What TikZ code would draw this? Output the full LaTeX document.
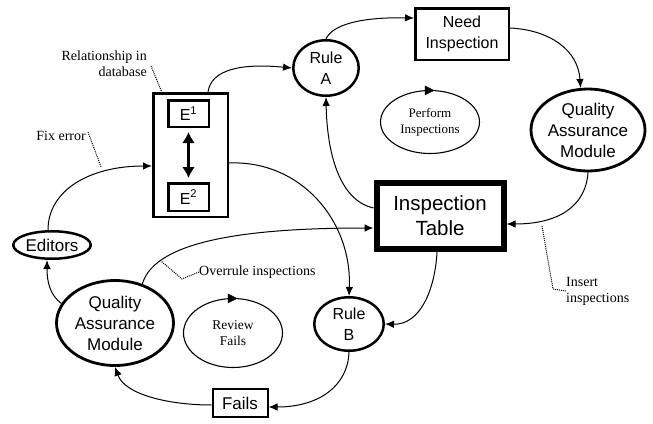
\documentclass[tikz,border=0pt]{standalone}
\usepackage{fontspec}
\setmainfont{Liberation Serif}
\newfontfamily\sansf{Liberation Sans}
\usetikzlibrary{shapes.geometric,arrows.meta}
\begin{document}
\begin{tikzpicture}[x=1pt,y=-1pt,
  conn/.style={line width=1pt,-{Latex[length=9pt,width=7.5pt]}},
  lead/.style={line width=1pt,densely dotted},
  bigell/.style={ellipse,draw,line width=2.8pt,inner sep=0pt,align=center,font=\sansf\fontsize{17}{21}\selectfont},
  thinell/.style={ellipse,draw,line width=1.1pt,inner sep=0pt,align=center,font=\fontsize{13.5}{16.5}\selectfont},
  boxn/.style={rectangle,draw,line width=2.5pt,inner sep=0pt,align=center,font=\sansf\fontsize{17}{21}\selectfont},
  note/.style={inner sep=0pt,font=\fontsize{14}{16}\selectfont},
  cyctip/.style={fill=black,draw=black,line width=0.5pt,line join=miter}
]
\useasboundingbox (0,0) rectangle (653,423);

% nodes
\node[boxn,minimum width=74.5pt,minimum height=123.5pt] (eo) at (190.5,155) {};
\node[boxn,minimum width=40.5pt,minimum height=26.5pt,font=\sansf\fontsize{16}{19}\selectfont] (e1) at (188.5,113.5) {E\textsuperscript{1}};
\node[boxn,minimum width=40.5pt,minimum height=27.5pt,font=\sansf\fontsize{16}{19}\selectfont] (e2) at (188.5,197) {E\textsuperscript{2}};
\node[bigell,line width=2.5pt,minimum width=65.5pt,minimum height=55.5pt,font=\sansf\fontsize{16}{21}\selectfont] (ra) at (326,68) {Rule\\A};
\node[boxn,minimum width=93.5pt,minimum height=51.5pt,font=\sansf\fontsize{16}{21}\selectfont] (ni) at (462,34) {Need\\Inspection};
\node[bigell,minimum width=114pt,minimum height=82pt] (qr) at (588,130) {Quality\\Assurance\\Module};
\node[thinell,minimum width=99pt,minimum height=63pt,font=\fontsize{13}{16}\selectfont] (pe) at (430,122) {Perform\\Inspections};
\node[boxn,line width=6pt,minimum width=127pt,minimum height=66pt,font=\sansf\fontsize{20.5}{25}\selectfont] (it) at (440,216) {Inspection\\Table};
\node[bigell,line width=2.5pt,minimum width=69.5pt,minimum height=53.5pt,font=\sansf\fontsize{16}{21}\selectfont] (rb) at (349,324) {Rule\\B};
\node[bigell,minimum width=117pt,minimum height=85pt] (ql) at (115,323) {Quality\\Assurance\\Module};
\node[bigell,line width=2.5pt,minimum width=77.5pt,minimum height=27.5pt] (ed) at (52,245) {Editors};
\node[thinell,minimum width=99pt,minimum height=69pt] (rf) at (233,333) {Review\\Fails};
\node[boxn,line width=2pt,minimum width=55pt,minimum height=28pt] (fa) at (240,403) {Fails};

% labels
\node[note,align=right,anchor=east] (rel) at (147,64) {Relationship in\\database};
\node[note,anchor=east] (fix) at (86,136) {Fix error};
\node[note,anchor=west] (over) at (199,272) {Overrule inspections};
\node[note,align=left,anchor=west] (ins) at (566,291) {Insert\\inspections};

\coordinate (relend) at (163,95);
\coordinate (fixend) at (101,167);
\coordinate (ovstart) at (161,261);
\coordinate (insstart) at (542,226);

% double arrow inside E box
\draw[line width=3pt,{Latex[length=11pt,width=13pt]}-{Latex[length=11pt,width=13pt]}] ([yshift=-4pt]e1.south) -- ([yshift=4pt]e2.north);

% cycle arrowheads on thin ellipses (pointing right, clockwise)
\draw[cyctip] ([xshift=-5pt,yshift=4pt]pe.north) -- ([xshift=4pt,yshift=-0.5pt]pe.north) -- ([xshift=-5pt,yshift=-5pt]pe.north) -- cycle;
\draw[cyctip] ([xshift=-5pt,yshift=4pt]rf.north) -- ([xshift=4pt,yshift=-0.5pt]rf.north) -- ([xshift=-5pt,yshift=-5pt]rf.north) -- cycle;

% connectors
\draw[conn] ([xshift=17.5pt]eo.north) .. controls (211,70) and (240,63) .. (ra.west);
\draw[conn] (ra.north) .. controls (332,25) and (360,17) .. ([yshift=16pt]ni.west);
\draw[conn] ([yshift=6pt]ni.east) .. controls (550,30) and (578,50) .. (qr.100);
\draw[conn] (qr.south) .. controls (586,205) and (560,224) .. ([yshift=-8pt]it.east);
\draw[conn] ([yshift=8pt]it.west) .. controls (338,200) and (327,150) .. (ra.south);
\draw[conn] (ql.55) .. controls (155,240) and (250,228) .. ([yshift=-12pt]it.west);
\draw[conn] ([yshift=-8pt]eo.east) .. controls (300,160) and (352,220) .. (rb.north);
\draw[conn] ([xshift=-3pt]it.south) .. controls (435,290) and (420,325) .. (rb.east);
\draw[conn] (rb.south) .. controls (348,385) and (320,407) .. ([yshift=-4pt]fa.east);
\draw[conn] ([yshift=-2pt]fa.west) .. controls (170,405) and (125,395) .. (ql.south);
\draw[conn] (ql.160) .. controls (50,295) and (47,282) .. ([xshift=-5pt]ed.south);
\draw[conn] ([xshift=-4pt]ed.north) .. controls (48,190) and (90,166) .. ([yshift=-11pt]eo.west);

% leaders
\draw[lead] ([xshift=4pt,yshift=-2pt]rel.east) -- (relend);
\draw[lead] ([xshift=2pt,yshift=4pt]fix.east) -- (fixend);
\draw[lead] (over.west) -- (182,279) -- (ovstart);
\draw[lead] (ins.west) -- (553,289) -- (insstart);
\end{tikzpicture}
\end{document}
